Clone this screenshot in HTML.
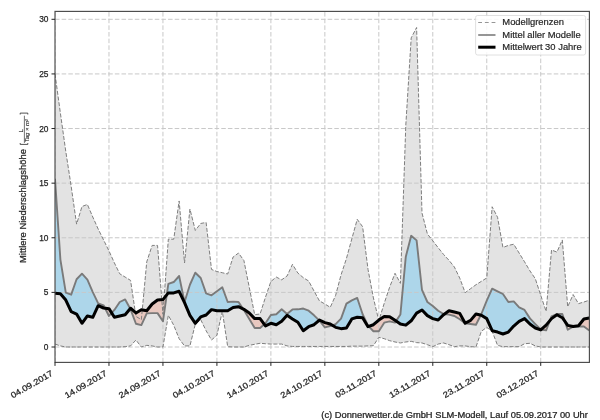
<!DOCTYPE html>
<html><head><meta charset="utf-8"><style>
html,body{margin:0;padding:0;background:#fff;width:600px;height:420px;overflow:hidden}
svg{display:block;will-change:transform}
</style></head><body>
<svg width="600" height="420" viewBox="0 0 600 420"><defs><clipPath id="ax"><rect x="55" y="11.4" width="534.3" height="351"/></clipPath></defs><rect x="0" y="0" width="600" height="420" fill="#ffffff"/><g clip-path="url(#ax)"><polygon points="55,73.93 60.4,113.25 65.79,151.48 71.19,186.43 76.59,224.12 81.98,206.53 87.38,204.45 92.78,217.02 98.18,229.03 103.57,239.95 108.97,250.88 114.37,262.89 119.76,273.82 125.16,277.09 130.56,280.37 135.95,316.42 141.35,319.69 146.75,261.8 152.15,245.42 157.54,245.42 162.94,314.23 168.34,239.19 173.73,239.19 179.13,200.96 184.53,263 189.92,209.04 195.32,230.45 200.72,223.46 206.12,222.48 211.51,269.45 216.91,271.52 222.31,272.72 227.7,274.03 233.1,256.99 238.5,253.06 243.89,260.49 249.29,287.47 254.69,314.67 260.08,314.01 265.48,297.19 270.88,281.46 276.28,277.09 281.67,279.82 287.07,276 292.47,264.31 297.86,273.05 303.26,277.64 308.66,281.03 314.05,291.07 319.45,300.9 324.85,303.96 330.25,307.35 335.64,295.33 341.04,274.91 346.44,258.52 351.83,238.86 357.23,219.31 362.63,226.74 368.02,269.45 373.42,297.96 378.82,320.78 384.22,303.31 389.61,287.25 395.01,273.27 400.41,283.32 405.8,125.26 411.2,37.88 416.6,27.5 421.99,212.97 427.39,233.95 432.79,240.83 438.18,247.71 443.58,254.48 448.98,260.27 454.38,267.04 459.77,278.19 465.17,292.71 470.57,288.67 475.96,284.74 481.36,281.35 486.76,277.97 492.15,206.75 497.55,217.23 502.95,247.49 508.35,245.42 513.74,244.21 519.14,253.06 524.54,261.8 529.93,270.87 535.33,278.73 540.73,295.33 546.12,311.39 551.52,250 556.92,252.08 562.32,239.95 567.71,306.8 573.11,294.57 578.51,303.64 583.9,302 589.3,300.25 589.3,347 583.9,347 578.51,347 573.11,347 567.71,347 562.32,347 556.92,347 551.52,347 546.12,347 540.73,347 535.33,345.91 529.93,343.29 524.54,343.72 519.14,346.67 513.74,346.67 508.35,346.67 502.95,346.67 497.55,345.36 492.15,331.27 486.76,327.34 481.36,331.27 475.96,347 470.57,346.67 465.17,345.91 459.77,345.91 454.38,346.67 448.98,344.71 443.58,342.96 438.18,344.05 432.79,346.67 427.39,344.71 421.99,342.96 416.6,342.63 411.2,341.32 405.8,341.98 400.41,342.96 395.01,341.98 389.61,340.66 384.22,338.7 378.82,337.28 373.42,345.69 368.02,345.91 362.63,346.13 357.23,346.13 351.83,346.13 346.44,346.45 341.04,346.45 335.64,346.45 330.25,346.45 324.85,346.45 319.45,346.45 314.05,346.45 308.66,346.45 303.26,346.45 297.86,346.45 292.47,346.45 287.07,345.91 281.67,344.05 276.28,344.05 270.88,344.05 265.48,343.72 260.08,343.29 254.69,344.27 249.29,345.36 243.89,347 238.5,347 233.1,347 227.7,346.67 222.31,311.28 216.91,335.31 211.51,340.01 206.12,330.72 200.72,319.69 195.32,324.06 189.92,345.91 184.53,345.91 179.13,338.7 173.73,325.26 168.34,315.32 162.94,347 157.54,347 152.15,345.91 146.75,345.36 141.35,347 135.95,340.01 130.56,345.91 125.16,346.67 119.76,347 114.37,347 108.97,347 103.57,347 98.18,347 92.78,347 87.38,347 81.98,347 76.59,347 71.19,347 65.79,347 60.4,345.91 55,344.05" fill="#e3e3e3" stroke="none"/><polygon points="55,178.79 60.4,259.62 65.79,292.71 71.19,294.68 76.59,279.28 81.98,273.71 87.38,279.61 92.78,292.06 98.18,303.31 103.57,305.27 105.04,308.18 105.04,308.18 103.57,308 98.18,305.71 92.78,317.29 87.38,315.98 81.98,323.3 76.59,314.01 71.19,311.72 65.79,300.03 60.4,293.7 55,293.37" fill="#add6ea" stroke="none"/><polygon points="111.67,312.97 114.37,309.97 119.76,302 125.16,299.48 130.2,308.66 130.2,308.66 125.16,314.67 119.76,315.98 114.37,317.29 111.67,312.97" fill="#add6ea" stroke="none"/><polygon points="166.76,294.88 168.34,283.97 173.73,282.01 179.13,276 184.53,302 189.92,284.74 195.32,272.72 200.72,277.97 206.12,293.37 211.51,295.33 216.91,291.29 222.31,287.25 227.7,302 233.1,301.67 238.5,302 243.23,308.99 243.23,308.99 238.5,306.69 233.1,307.57 227.7,310.74 222.31,310.74 216.91,310.74 211.51,309.64 206.12,315 200.72,316.96 195.32,323.3 189.92,315.32 184.53,302.65 179.13,291.29 173.73,292.93 168.34,292.93 166.76,294.88" fill="#add6ea" stroke="none"/><polygon points="264.3,324.32 265.48,323.3 270.88,315 276.28,314.23 281.67,309.32 287.07,314.01 292.47,309.42 297.86,309.32 303.26,308.55 308.66,310.74 314.05,315.32 319.1,320.33 319.1,320.33 314.05,324.72 308.66,326.68 303.26,330.72 297.86,322.31 292.47,318.93 287.07,315.32 281.67,321.33 276.28,324.72 270.88,323.3 265.48,325.92 264.3,324.32" fill="#add6ea" stroke="none"/><polygon points="332.27,325.29 335.64,324.06 341.04,318.6 346.44,303.64 351.83,300.36 357.23,297.96 362.63,314.23 368.02,325.7 368.73,326.43 368.73,326.43 368.02,326.68 362.63,317.73 357.23,317.29 351.83,318.93 346.44,327.99 341.04,328.65 335.64,327.34 332.27,325.29" fill="#add6ea" stroke="none"/><polygon points="396.05,321.06 400.41,314.45 405.8,256.67 411.2,235.8 416.6,240.39 421.99,289.98 427.39,302 432.79,306.04 438.18,310.74 443.58,314.01 444.35,314.11 444.35,314.11 443.58,314.67 438.18,320.02 432.79,318.6 427.39,315.65 421.99,309.97 416.6,313.14 411.2,320.78 405.8,325.15 400.41,324.06 396.05,321.06" fill="#add6ea" stroke="none"/><polygon points="465.17,323.3 465.17,323.3 465.17,323.3 465.17,323.3 465.17,323.3 465.17,323.3" fill="#add6ea" stroke="none"/><polygon points="480.77,315.18 481.36,314.01 486.76,300.69 492.15,288.67 497.55,291.29 502.95,294.02 508.35,302 513.74,301.34 519.14,307.35 524.54,309.97 529.93,318.38 535.33,324.06 540.73,329.52 541.14,329.59 541.14,329.59 540.73,329.96 535.33,327.99 529.93,324.06 524.54,318.6 519.14,321.33 513.74,326.03 508.35,332.04 502.95,334 497.55,332.04 492.15,330.72 486.76,318.6 481.36,315.32 480.77,315.18" fill="#add6ea" stroke="none"/><polygon points="549.93,320.53 551.52,316.42 556.92,314.01 562.32,314.01 564.79,321.24 564.79,321.24 562.32,317.73 556.92,314.78 551.52,318.6 549.93,320.53" fill="#add6ea" stroke="none"/><polygon points="573.11,326.57 573.11,326.57 573.11,326.57 573.11,326.57 573.11,326.57 573.11,326.57" fill="#add6ea" stroke="none"/><polygon points="105.04,308.18 108.97,315.98 111.67,312.97 111.67,312.97 108.97,308.66 105.04,308.18" fill="#e8c8c0" stroke="none"/><polygon points="130.2,308.66 130.56,309.32 135.95,323.73 141.35,325.15 146.75,313.36 152.15,313.14 157.54,313.14 162.94,321.33 166.76,294.88 166.76,294.88 162.94,299.59 157.54,300.03 152.15,303.96 146.75,310.74 141.35,309.75 135.95,312.92 130.56,308.22 130.2,308.66" fill="#e8c8c0" stroke="none"/><polygon points="243.23,308.99 243.89,309.97 249.29,318.93 254.69,327.99 260.08,327.99 264.3,324.32 264.3,324.32 260.08,318.6 254.69,318.6 249.29,313.03 243.89,309.32 243.23,308.99" fill="#e8c8c0" stroke="none"/><polygon points="319.1,320.33 319.45,320.68 324.85,327.34 330.25,326.03 332.27,325.29 332.27,325.29 330.25,324.06 324.85,322.64 319.45,320.02 319.1,320.33" fill="#e8c8c0" stroke="none"/><polygon points="368.73,326.43 373.42,331.27 378.82,331.27 384.22,322.64 389.61,321.33 395.01,322.64 396.05,321.06 396.05,321.06 395.01,320.35 389.61,316.74 384.22,316.42 378.82,320.02 373.42,324.72 368.73,326.43" fill="#e8c8c0" stroke="none"/><polygon points="444.35,314.11 448.98,314.67 454.38,315.98 459.77,319.26 465.17,323.3 470.57,324.06 475.96,324.72 480.77,315.18 480.77,315.18 475.96,314.01 470.57,320.35 465.17,323.3 459.77,313.36 454.38,312.05 448.98,310.74 444.35,314.11" fill="#e8c8c0" stroke="none"/><polygon points="541.14,329.59 546.12,330.4 549.93,320.53 549.93,320.53 546.12,325.15 541.14,329.59" fill="#e8c8c0" stroke="none"/><polygon points="564.79,321.24 567.71,329.74 573.11,326.57 578.51,326.46 583.9,326.46 589.3,330.51 589.3,318.05 583.9,319.04 578.51,325.7 573.11,326.57 567.71,325.37 564.79,321.24" fill="#e8c8c0" stroke="none"/><g stroke="#c8c8c8" stroke-width="1" stroke-dasharray="4.55 2.1" fill="none"><line x1="55" y1="347" x2="589.3" y2="347"/><line x1="55" y1="292.38" x2="589.3" y2="292.38"/><line x1="55" y1="237.77" x2="589.3" y2="237.77"/><line x1="55" y1="183.16" x2="589.3" y2="183.16"/><line x1="55" y1="128.54" x2="589.3" y2="128.54"/><line x1="55" y1="73.93" x2="589.3" y2="73.93"/><line x1="55" y1="19.31" x2="589.3" y2="19.31"/><line x1="55" y1="362.4" x2="55" y2="11.4"/><line x1="108.97" y1="362.4" x2="108.97" y2="11.4"/><line x1="162.94" y1="362.4" x2="162.94" y2="11.4"/><line x1="216.91" y1="362.4" x2="216.91" y2="11.4"/><line x1="270.88" y1="362.4" x2="270.88" y2="11.4"/><line x1="324.85" y1="362.4" x2="324.85" y2="11.4"/><line x1="378.82" y1="362.4" x2="378.82" y2="11.4"/><line x1="432.79" y1="362.4" x2="432.79" y2="11.4"/><line x1="486.76" y1="362.4" x2="486.76" y2="11.4"/><line x1="540.73" y1="362.4" x2="540.73" y2="11.4"/></g><polyline points="55,73.93 60.4,113.25 65.79,151.48 71.19,186.43 76.59,224.12 81.98,206.53 87.38,204.45 92.78,217.02 98.18,229.03 103.57,239.95 108.97,250.88 114.37,262.89 119.76,273.82 125.16,277.09 130.56,280.37 135.95,316.42 141.35,319.69 146.75,261.8 152.15,245.42 157.54,245.42 162.94,314.23 168.34,239.19 173.73,239.19 179.13,200.96 184.53,263 189.92,209.04 195.32,230.45 200.72,223.46 206.12,222.48 211.51,269.45 216.91,271.52 222.31,272.72 227.7,274.03 233.1,256.99 238.5,253.06 243.89,260.49 249.29,287.47 254.69,314.67 260.08,314.01 265.48,297.19 270.88,281.46 276.28,277.09 281.67,279.82 287.07,276 292.47,264.31 297.86,273.05 303.26,277.64 308.66,281.03 314.05,291.07 319.45,300.9 324.85,303.96 330.25,307.35 335.64,295.33 341.04,274.91 346.44,258.52 351.83,238.86 357.23,219.31 362.63,226.74 368.02,269.45 373.42,297.96 378.82,320.78 384.22,303.31 389.61,287.25 395.01,273.27 400.41,283.32 405.8,125.26 411.2,37.88 416.6,27.5 421.99,212.97 427.39,233.95 432.79,240.83 438.18,247.71 443.58,254.48 448.98,260.27 454.38,267.04 459.77,278.19 465.17,292.71 470.57,288.67 475.96,284.74 481.36,281.35 486.76,277.97 492.15,206.75 497.55,217.23 502.95,247.49 508.35,245.42 513.74,244.21 519.14,253.06 524.54,261.8 529.93,270.87 535.33,278.73 540.73,295.33 546.12,311.39 551.52,250 556.92,252.08 562.32,239.95 567.71,306.8 573.11,294.57 578.51,303.64 583.9,302 589.3,300.25" fill="none" stroke="#7e7e7e" stroke-width="1" stroke-dasharray="4 1.7"/><polyline points="55,344.05 60.4,345.91 65.79,347 71.19,347 76.59,347 81.98,347 87.38,347 92.78,347 98.18,347 103.57,347 108.97,347 114.37,347 119.76,347 125.16,346.67 130.56,345.91 135.95,340.01 141.35,347 146.75,345.36 152.15,345.91 157.54,347 162.94,347 168.34,315.32 173.73,325.26 179.13,338.7 184.53,345.91 189.92,345.91 195.32,324.06 200.72,319.69 206.12,330.72 211.51,340.01 216.91,335.31 222.31,311.28 227.7,346.67 233.1,347 238.5,347 243.89,347 249.29,345.36 254.69,344.27 260.08,343.29 265.48,343.72 270.88,344.05 276.28,344.05 281.67,344.05 287.07,345.91 292.47,346.45 297.86,346.45 303.26,346.45 308.66,346.45 314.05,346.45 319.45,346.45 324.85,346.45 330.25,346.45 335.64,346.45 341.04,346.45 346.44,346.45 351.83,346.13 357.23,346.13 362.63,346.13 368.02,345.91 373.42,345.69 378.82,337.28 384.22,338.7 389.61,340.66 395.01,341.98 400.41,342.96 405.8,341.98 411.2,341.32 416.6,342.63 421.99,342.96 427.39,344.71 432.79,346.67 438.18,344.05 443.58,342.96 448.98,344.71 454.38,346.67 459.77,345.91 465.17,345.91 470.57,346.67 475.96,347 481.36,331.27 486.76,327.34 492.15,331.27 497.55,345.36 502.95,346.67 508.35,346.67 513.74,346.67 519.14,346.67 524.54,343.72 529.93,343.29 535.33,345.91 540.73,347 546.12,347 551.52,347 556.92,347 562.32,347 567.71,347 573.11,347 578.51,347 583.9,347 589.3,347" fill="none" stroke="#7e7e7e" stroke-width="1" stroke-dasharray="4 1.7"/><polyline points="55,178.79 60.4,259.62 65.79,292.71 71.19,294.68 76.59,279.28 81.98,273.71 87.38,279.61 92.78,292.06 98.18,303.31 103.57,305.27 108.97,315.98 114.37,309.97 119.76,302 125.16,299.48 130.56,309.32 135.95,323.73 141.35,325.15 146.75,313.36 152.15,313.14 157.54,313.14 162.94,321.33 168.34,283.97 173.73,282.01 179.13,276 184.53,302 189.92,284.74 195.32,272.72 200.72,277.97 206.12,293.37 211.51,295.33 216.91,291.29 222.31,287.25 227.7,302 233.1,301.67 238.5,302 243.89,309.97 249.29,318.93 254.69,327.99 260.08,327.99 265.48,323.3 270.88,315 276.28,314.23 281.67,309.32 287.07,314.01 292.47,309.42 297.86,309.32 303.26,308.55 308.66,310.74 314.05,315.32 319.45,320.68 324.85,327.34 330.25,326.03 335.64,324.06 341.04,318.6 346.44,303.64 351.83,300.36 357.23,297.96 362.63,314.23 368.02,325.7 373.42,331.27 378.82,331.27 384.22,322.64 389.61,321.33 395.01,322.64 400.41,314.45 405.8,256.67 411.2,235.8 416.6,240.39 421.99,289.98 427.39,302 432.79,306.04 438.18,310.74 443.58,314.01 448.98,314.67 454.38,315.98 459.77,319.26 465.17,323.3 470.57,324.06 475.96,324.72 481.36,314.01 486.76,300.69 492.15,288.67 497.55,291.29 502.95,294.02 508.35,302 513.74,301.34 519.14,307.35 524.54,309.97 529.93,318.38 535.33,324.06 540.73,329.52 546.12,330.4 551.52,316.42 556.92,314.01 562.32,314.01 567.71,329.74 573.11,326.57 578.51,326.46 583.9,326.46 589.3,330.51" fill="none" stroke="#7a7a7a" stroke-width="1.9" stroke-linejoin="round"/><polyline points="55,293.37 60.4,293.7 65.79,300.03 71.19,311.72 76.59,314.01 81.98,323.3 87.38,315.98 92.78,317.29 98.18,305.71 103.57,308 108.97,308.66 114.37,317.29 119.76,315.98 125.16,314.67 130.56,308.22 135.95,312.92 141.35,309.75 146.75,310.74 152.15,303.96 157.54,300.03 162.94,299.59 168.34,292.93 173.73,292.93 179.13,291.29 184.53,302.65 189.92,315.32 195.32,323.3 200.72,316.96 206.12,315 211.51,309.64 216.91,310.74 222.31,310.74 227.7,310.74 233.1,307.57 238.5,306.69 243.89,309.32 249.29,313.03 254.69,318.6 260.08,318.6 265.48,325.92 270.88,323.3 276.28,324.72 281.67,321.33 287.07,315.32 292.47,318.93 297.86,322.31 303.26,330.72 308.66,326.68 314.05,324.72 319.45,320.02 324.85,322.64 330.25,324.06 335.64,327.34 341.04,328.65 346.44,327.99 351.83,318.93 357.23,317.29 362.63,317.73 368.02,326.68 373.42,324.72 378.82,320.02 384.22,316.42 389.61,316.74 395.01,320.35 400.41,324.06 405.8,325.15 411.2,320.78 416.6,313.14 421.99,309.97 427.39,315.65 432.79,318.6 438.18,320.02 443.58,314.67 448.98,310.74 454.38,312.05 459.77,313.36 465.17,323.3 470.57,320.35 475.96,314.01 481.36,315.32 486.76,318.6 492.15,330.72 497.55,332.04 502.95,334 508.35,332.04 513.74,326.03 519.14,321.33 524.54,318.6 529.93,324.06 535.33,327.99 540.73,329.96 546.12,325.15 551.52,318.6 556.92,314.78 562.32,317.73 567.71,325.37 573.11,326.57 578.51,325.7 583.9,319.04 589.3,318.05" fill="none" stroke="#000000" stroke-width="3" stroke-linejoin="round"/></g><rect x="55" y="11.4" width="534.4" height="351" fill="none" stroke="#4a4a4a" stroke-width="1.15"/><g stroke="#222" stroke-width="1"><line x1="51.5" y1="347" x2="55" y2="347"/><line x1="51.5" y1="292.38" x2="55" y2="292.38"/><line x1="51.5" y1="237.77" x2="55" y2="237.77"/><line x1="51.5" y1="183.16" x2="55" y2="183.16"/><line x1="51.5" y1="128.54" x2="55" y2="128.54"/><line x1="51.5" y1="73.93" x2="55" y2="73.93"/><line x1="51.5" y1="19.31" x2="55" y2="19.31"/><line x1="55" y1="362.4" x2="55" y2="365.9"/><line x1="108.97" y1="362.4" x2="108.97" y2="365.9"/><line x1="162.94" y1="362.4" x2="162.94" y2="365.9"/><line x1="216.91" y1="362.4" x2="216.91" y2="365.9"/><line x1="270.88" y1="362.4" x2="270.88" y2="365.9"/><line x1="324.85" y1="362.4" x2="324.85" y2="365.9"/><line x1="378.82" y1="362.4" x2="378.82" y2="365.9"/><line x1="432.79" y1="362.4" x2="432.79" y2="365.9"/><line x1="486.76" y1="362.4" x2="486.76" y2="365.9"/><line x1="540.73" y1="362.4" x2="540.73" y2="365.9"/></g><g font-family="Liberation Sans, sans-serif" font-size="8.33" fill="#262626" stroke="#262626" stroke-width="0.25"><text x="48.5" y="350.1" text-anchor="end">0</text><text x="48.5" y="295.49" text-anchor="end">5</text><text x="48.5" y="240.87" text-anchor="end">10</text><text x="48.5" y="186.25" text-anchor="end">15</text><text x="48.5" y="131.64" text-anchor="end">20</text><text x="48.5" y="77.03" text-anchor="end">25</text><text x="48.5" y="22.41" text-anchor="end">30</text></g><g font-family="Liberation Sans, sans-serif" font-size="8.33" fill="#262626" stroke="#262626" stroke-width="0.25"><text transform="translate(53.5,375) rotate(-30) scale(1.13,1)" text-anchor="end">04.09.2017</text><text transform="translate(107.47,375) rotate(-30) scale(1.13,1)" text-anchor="end">14.09.2017</text><text transform="translate(161.44,375) rotate(-30) scale(1.13,1)" text-anchor="end">24.09.2017</text><text transform="translate(215.41,375) rotate(-30) scale(1.13,1)" text-anchor="end">04.10.2017</text><text transform="translate(269.38,375) rotate(-30) scale(1.13,1)" text-anchor="end">14.10.2017</text><text transform="translate(323.35,375) rotate(-30) scale(1.13,1)" text-anchor="end">24.10.2017</text><text transform="translate(377.32,375) rotate(-30) scale(1.13,1)" text-anchor="end">03.11.2017</text><text transform="translate(431.29,375) rotate(-30) scale(1.13,1)" text-anchor="end">13.11.2017</text><text transform="translate(485.26,375) rotate(-30) scale(1.13,1)" text-anchor="end">23.11.2017</text><text transform="translate(539.23,375) rotate(-30) scale(1.13,1)" text-anchor="end">03.12.2017</text></g><g transform="translate(25.9,263) rotate(-90)" font-family="Liberation Sans, sans-serif" fill="#262626" stroke="#262626" stroke-width="0.25"><text transform="scale(1.13,1)" x="0" y="0" font-size="8.33">Mittlere Niederschlagshöhe</text></g><g transform="translate(26.5,261.7) rotate(-90)" font-family="Liberation Sans, sans-serif" fill="#262626"><path d="M118.7,-6.3 L117.3,-6.3 L117.3,1.3 L118.7,1.3 M147.2,-6.3 L148.6,-6.3 L148.6,1.3 L147.2,1.3" fill="none" stroke="#262626" stroke-width="0.8" stroke-linejoin="miter" stroke-linecap="butt"/><line x1="118.8" y1="-2.1" x2="146" y2="-2.1" stroke="#262626" stroke-width="0.65"/><text x="129.2" y="-3.3" font-size="6.2" stroke="#262626" stroke-width="0.15">L</text><text x="119.5" y="2.8" font-size="5.3" font-style="italic" textLength="23" lengthAdjust="spacingAndGlyphs" stroke="#262626" stroke-width="0.12">Tag × m²</text></g><rect x="475.6" y="15.5" width="110" height="39.5" rx="2" ry="2" fill="#ffffff" fill-opacity="0.85" stroke="#d8d8d8" stroke-width="0.8"/><line x1="478.2" y1="22.5" x2="495.5" y2="22.5" stroke="#8a8a8a" stroke-width="0.9" stroke-dasharray="3.8 2.9"/><line x1="478.2" y1="35" x2="495.5" y2="35" stroke="#7c7c7c" stroke-width="1.6"/><line x1="478.2" y1="47.2" x2="495.5" y2="47.2" stroke="#000" stroke-width="3"/><text transform="translate(502.3,24.9) scale(1.13,1)" font-family="Liberation Sans, sans-serif" font-size="8.33" fill="#262626" stroke="#262626" stroke-width="0.18">Modellgrenzen</text><text transform="translate(502.3,37.5) scale(1.13,1)" font-family="Liberation Sans, sans-serif" font-size="8.33" fill="#262626" stroke="#262626" stroke-width="0.18">Mittel aller Modelle</text><text transform="translate(502.3,49.8) scale(1.13,1)" font-family="Liberation Sans, sans-serif" font-size="8.33" fill="#262626" stroke="#262626" stroke-width="0.18">Mittelwert 30 Jahre</text><text transform="translate(321.3,418) scale(1.12,1)" font-family="Liberation Sans, sans-serif" font-size="8.33" fill="#262626" stroke="#262626" stroke-width="0.25">(c) Donnerwetter.de GmbH SLM-Modell, Lauf 05.09.2017 00 Uhr</text></svg>
</body></html>
